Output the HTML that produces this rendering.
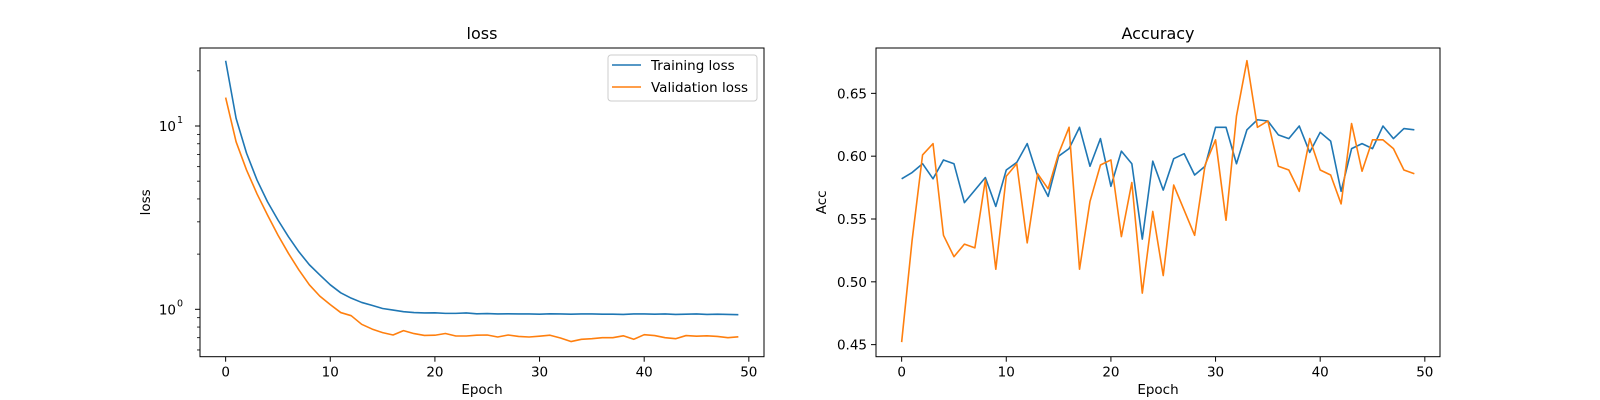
<!DOCTYPE html>
<html><head><meta charset="utf-8"><style>
body{margin:0;background:#fff}
svg{display:block;font-family:"DejaVu Sans","Liberation Sans",sans-serif}
</style></head><body>
<svg id="fig" width="1600" height="400" viewBox="0 0 1600 400" xmlns="http://www.w3.org/2000/svg">
<rect width="1600" height="400" fill="#fff"/>
<g id="left"></g>
<g id="right"></g>
</svg>
<script>
const epochs = Array.from({length:50},(_, i)=>i);
const trainLoss = [22.7,11.0,7.1,5.07,3.86,3.07,2.49,2.06,1.75,1.54,1.36,1.23,1.15,1.09,1.05,1.01,0.99,0.97,0.96,0.955,0.957,0.95,0.95,0.955,0.945,0.948,0.943,0.945,0.943,0.943,0.94,0.945,0.943,0.94,0.943,0.943,0.94,0.94,0.938,0.943,0.943,0.94,0.943,0.938,0.94,0.943,0.938,0.94,0.938,0.935];
const valLoss = [14.3,8.2,5.75,4.26,3.27,2.54,2.02,1.64,1.36,1.18,1.06,0.96,0.923,0.828,0.78,0.746,0.724,0.765,0.737,0.72,0.722,0.738,0.715,0.715,0.722,0.724,0.706,0.724,0.711,0.706,0.713,0.722,0.697,0.667,0.686,0.691,0.700,0.700,0.717,0.686,0.727,0.719,0.700,0.691,0.719,0.713,0.717,0.711,0.700,0.708];
const trainAcc = [0.582,0.587,0.594,0.582,0.597,0.594,0.563,0.573,0.583,0.560,0.589,0.595,0.610,0.584,0.568,0.600,0.606,0.623,0.592,0.614,0.576,0.604,0.594,0.534,0.596,0.573,0.598,0.602,0.585,0.592,0.623,0.623,0.594,0.621,0.629,0.628,0.617,0.614,0.624,0.603,0.619,0.612,0.572,0.606,0.610,0.606,0.624,0.614,0.622,0.621];
const valAcc = [0.452,0.533,0.601,0.610,0.537,0.520,0.530,0.527,0.581,0.510,0.584,0.594,0.531,0.586,0.574,0.602,0.623,0.510,0.564,0.593,0.597,0.536,0.579,0.491,0.556,0.505,0.577,0.557,0.537,0.593,0.613,0.549,0.632,0.676,0.623,0.628,0.592,0.589,0.572,0.614,0.589,0.585,0.562,0.626,0.588,0.613,0.613,0.606,0.589,0.586];
const xTicks = [0,10,20,30,40,50];
const accTicks = [0.45,0.50,0.55,0.60,0.65];
const logMajor = [1,10];
const logMinor = [0.6,0.7,0.8,0.9,2,3,4,5,6,7,8,9,20];

const NS="http://www.w3.org/2000/svg";
function mk(parent,tag,attrs,text){const e=document.createElementNS(NS,tag);for(const k in attrs)e.setAttribute(k,attrs[k]);if(text!==undefined)e.textContent=text;parent.appendChild(e);return e;}
const T=48,B=356.7;
function xs(x0){return v=>x0+(v+2.45)*(564/53.9);}
function drawAxes(g,x0,title,ylab){
  const f=mk(g,'rect',{x:x0,y:T,width:564,height:B-T,fill:'none',stroke:'#000','stroke-width':1});
  
  const t=mk(g,'text',{x:x0+282,y:39,'text-anchor':'middle','font-size':16},title);
  
  const xl=mk(g,'text',{x:x0+282,y:394,'text-anchor':'middle','font-size':13.5},'Epoch');
  
  const yl=mk(g,'text',{x:0,y:0,'text-anchor':'middle','font-size':13.5,transform:`translate(${x0-50},${(T+B)/2}) rotate(-90)`},ylab);
  
  const X=xs(x0);
  xTicks.forEach(v=>{const px=X(v);
    mk(g,'line',{x1:px,x2:px,y1:B,y2:B+5,stroke:'#000'});
    const l=mk(g,'text',{x:px,y:B+20,'text-anchor':'middle','font-size':13.5},String(v));
    });
}
function line(g,X,Y,xsArr,ys,color,name){
  const d=ys.map((v,i)=>(i?'L':'M')+X(xsArr[i]).toFixed(2)+','+Y(v).toFixed(2)).join(' ');
  const p=mk(g,'path',{d:d,fill:'none',stroke:color,'stroke-width':1.6,'stroke-linejoin':'round'});
  
}
// left
const L=document.getElementById('left');
drawAxes(L,200,'loss','loss');
const XL=xs(200);
const lt=1.4255,lb=-0.2586;
const YL=v=>T+(lt-Math.log10(v))/(lt-lb)*(B-T);
logMajor.forEach((v,i)=>{const py=YL(v);
  mk(L,'line',{x1:200,x2:195,y1:py,y2:py,stroke:'#000'});
  const t=mk(L,'text',{x:176,y:py+5,'text-anchor':'end','font-size':13.5},'10');
  
  mk(L,'text',{x:177,y:py-3,'font-size':9.5},String(i));});
logMinor.forEach(v=>{const py=YL(v);mk(L,'line',{x1:200,x2:197,y1:py,y2:py,stroke:'#000','stroke-width':0.8});});
line(L,XL,YL,epochs,trainLoss,'#1f77b4','training-loss-line');
line(L,XL,YL,epochs,valLoss,'#ff7f0e','validation-loss-line');
const lg=mk(L,'g',{});

mk(lg,'rect',{x:608,y:55,width:149,height:46,rx:3,fill:'#fff','fill-opacity':0.8,stroke:'#ccc'});
mk(lg,'line',{x1:612,x2:641,y1:65,y2:65,stroke:'#1f77b4','stroke-width':1.6});
mk(lg,'line',{x1:612,x2:641,y1:87,y2:87,stroke:'#ff7f0e','stroke-width':1.6});
const e1=mk(lg,'text',{x:651,y:70,'font-size':13.5},'Training loss');

const e2=mk(lg,'text',{x:651,y:92,'font-size':13.5},'Validation loss');

// right
const R=document.getElementById('right');
drawAxes(R,876,'Accuracy','Acc');
const XR=xs(876);
const at=0.6861,ab=0.4404;
const YR=v=>T+(at-v)/(at-ab)*(B-T);
accTicks.forEach(v=>{const py=YR(v);
  mk(R,'line',{x1:876,x2:871,y1:py,y2:py,stroke:'#000'});
  const t=mk(R,'text',{x:867,y:py+5,'text-anchor':'end','font-size':13.5},v.toFixed(2));
  });
line(R,XR,YR,epochs,trainAcc,'#1f77b4','training-accuracy-line');
line(R,XR,YR,epochs,valAcc,'#ff7f0e','validation-accuracy-line');
</script>
</body></html>
